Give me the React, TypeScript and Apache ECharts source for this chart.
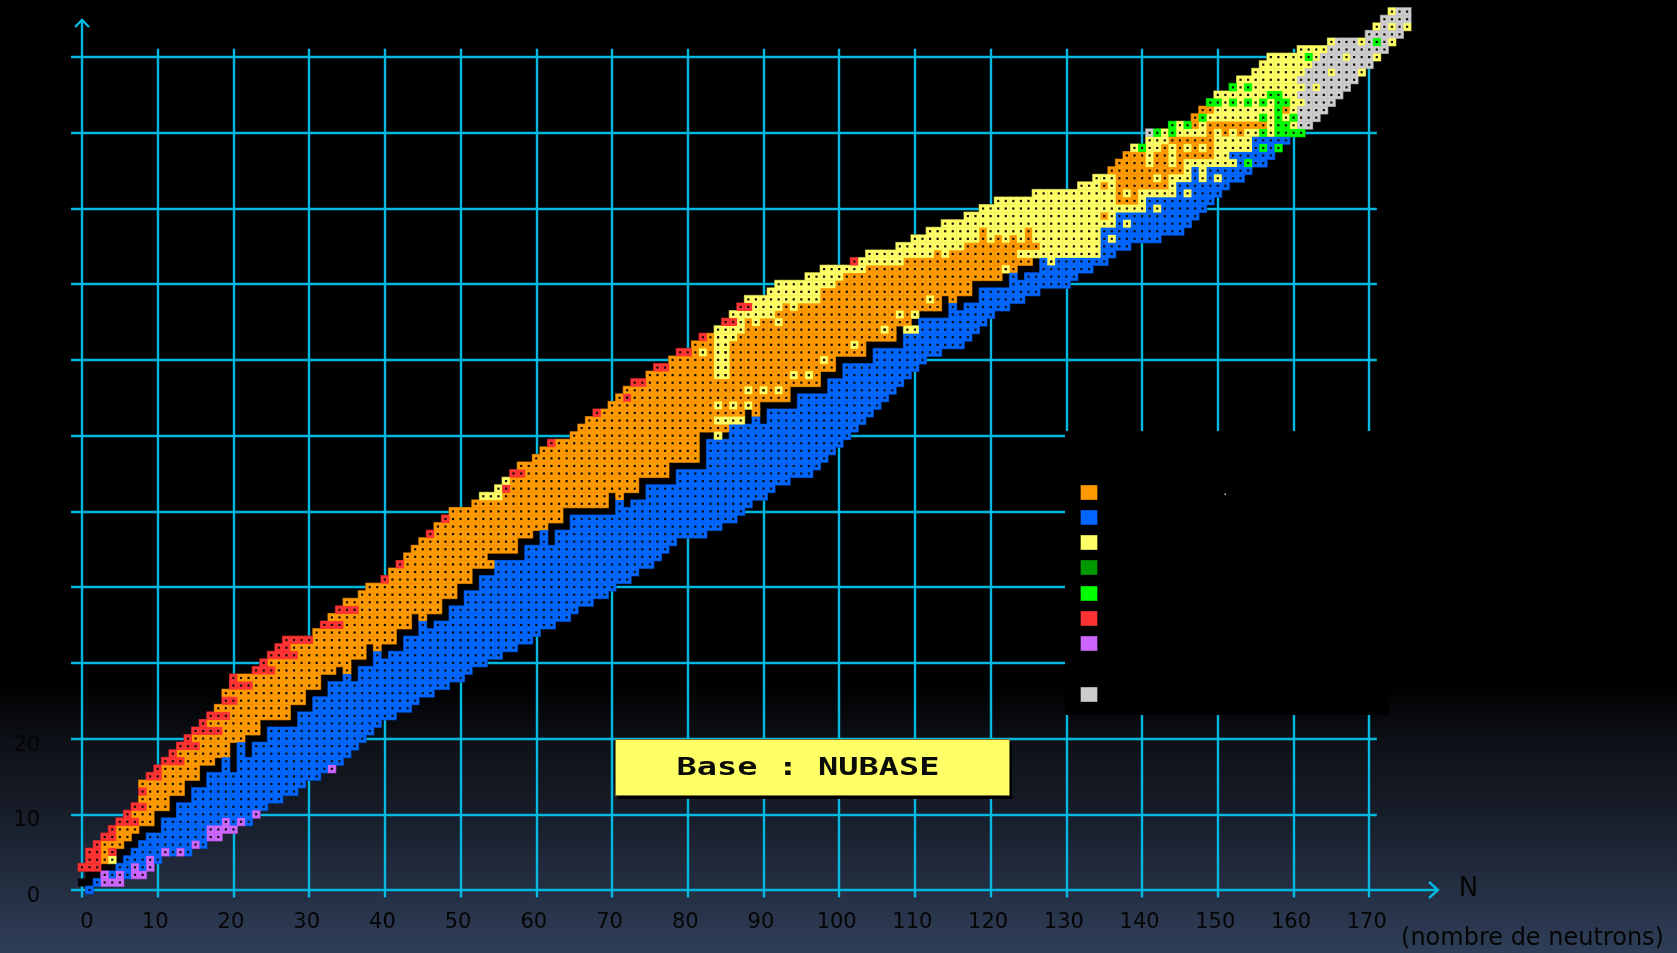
import React, { useEffect, useRef } from "react";
import * as echarts from "echarts";

type Run = [number, number, number]; // [Z, first N, last N]

const xTicks = [0, 10, 20, 30, 40, 50, 60, 70, 80, 90, 100, 110, 120, 130, 140, 150, 160, 170];
const gridZ = [10, 20, 30, 40, 50, 60, 70, 80, 90, 100, 110];
const yTickLabels = [0, 10, 20];
const legendColors = ["#ff9900", "#0066ff", "#ffff66", "#009900", "#00ff00", "#ff3333", "#cc66ff", "#cccccc"];
const noteText = "Base : NUBASE";
const axisLetter = "N";
const axisNote = "(nombre de neutrons)";

const blackRuns: Run[] = [
  [1,0,1],[2,1,2],[3,3,4],[4,5,5],[5,5,6],[6,6,7],[7,7,8],[8,8,10],[9,10,10],[10,10,12],[11,12,12],[12,12,14],[13,14,14],[14,14,16],[15,16,16],
  [16,16,18],[16,20,20],[17,18,18],[17,20,20],[18,20,20],[18,22,22],[19,20,20],[19,22,22],[20,22,24],[21,24,24],[22,24,28],[23,28,28],[24,28,30],[25,30,30],
  [26,30,32],[27,32,32],[28,32,34],[28,36,36],[29,34,34],[29,36,36],[30,36,38],[31,38,38],[31,40,40],[32,38,38],[32,40,42],[33,42,42],[34,42,44],
  [35,44,44],[35,46,46],[36,44,44],[36,46,48],[37,48,48],[38,48,50],[39,50,50],[40,50,52],[41,52,52],[42,52,54],[44,54,58],[45,58,58],[46,58,60],[46,62,62],
  [47,60,60],[47,62,62],[48,62,64],[49,64,64],[50,64,70],[51,70,70],[51,72,72],[52,70,70],[52,72,74],[53,74,74],[54,74,78],[55,78,78],[56,78,82],[57,82,82],
  [58,82,82],[59,82,82],[60,82,83],[60,85,85],[62,88,88],[62,90,90],[63,88,88],[63,90,90],[64,90,94],[65,94,94],[66,94,98],[67,98,98],[68,98,100],[69,100,100],
  [70,100,104],[71,104,104],[72,104,108],[73,108,108],[74,108,108],[75,110,110],[76,111,114],[77,114,114],[77,116,116],[78,114,114],[78,116,118],[79,118,118],
  [80,118,122],[81,122,122],[81,124,124],[82,124,126],[83,126,126],
];

const orangeRuns: Run[] = [
  [4,3,3],[5,3,3],[6,3,5],[7,5,6],[8,5,7],[9,8,9],[10,7,9],[11,9,11],[12,8,11],[13,9,13],[14,8,13],[15,11,15],[16,11,15],[17,14,17],[18,13,19],[19,16,19],
  [20,15,21],[21,19,23],[22,17,23],[23,20,27],[24,18,27],[25,21,29],[26,19,29],[27,23,31],[28,21,31],[29,26,33],[29,35,35],[30,25,35],[31,29,37],[32,28,37],[32,39,39],
  [33,31,41],[34,31,41],[35,35,43],[36,33,43],[36,45,45],[37,37,47],[38,35,47],[39,37,49],[40,38,49],[41,41,51],[42,41,51],[43,43,54],[44,43,53],[45,44,57],[46,45,57],
  [47,47,59],[48,47,61],[49,49,63],[50,49,63],[51,52,69],[52,56,69],[52,71,71],[53,57,73],[54,57,73],[55,59,77],[56,58,77],[57,60,81],[58,61,81],[59,63,81],[60,65,81],
  [61,66,85],[62,67,83],[63,69,87],[63,89,89],[64,70,89],[65,71,93],[66,72,93],[67,75,97],[68,75,97],[69,78,99],[70,78,99],[71,81,103],[72,81,103],[73,83,107],[74,88,107],
  [75,88,109],[76,92,110],[77,93,113],[78,98,113],[78,115,115],[79,98,117],[80,100,117],[81,101,121],[82,104,123],[83,109,125],[84,113,113],[84,115,123],[85,117,126],
  [86,119,119],[86,121,121],[86,123,123],[86,125,125],[87,119,119],[87,125,125],[89,135,135],[91,137,139],[92,137,137],[92,139,139],[93,135,135],[93,137,143],
  [94,137,141],[94,143,143],[95,136,145],[96,137,140],[96,142,143],[96,145,145],[97,138,140],[97,142,143],[97,145,149],[98,143,143],[98,145,145],[98,147,147],[98,149,149],
  [99,144,149],[100,149,149],[100,151,151],[100,153,153],[101,147,147],[101,149,156],[102,147,147],[103,148,149],[103,159,159],
];

const blueRuns: Run[] = [
  [0,1,1],[1,2,2],[2,4,4],[2,6,6],[3,5,6],[3,8,8],[4,6,8],[4,10,10],[5,7,10],[5,12,12],[5,14,14],[6,8,14],[6,16,16],[7,9,16],[8,11,16],[9,11,18],[9,20,20],[9,22,22],
  [10,13,22],[11,13,24],[12,15,26],[13,15,28],[14,17,29],[15,17,31],[16,19,19],[16,21,32],[17,19,19],[17,21,34],[18,21,21],[18,23,35],[19,21,21],[19,23,36],[20,25,37],
  [21,25,38],[22,29,39],[23,29,41],[24,31,43],[25,31,44],[26,33,46],[27,33,48],[28,35,35],[28,37,50],[29,37,51],[30,39,53],[31,39,39],[31,41,55],[32,43,57],[33,43,59],
  [34,45,60],[35,45,45],[35,47,62],[36,49,64],[37,49,65],[38,51,67],[39,51,69],[40,53,70],[41,53,72],[42,55,73],[43,55,75],[44,59,76],[45,59,77],[46,61,61],[46,63,78],
  [47,61,61],[47,63,82],[48,65,84],[49,65,86],[50,71,87],[51,71,71],[51,73,88],[52,75,90],[53,75,91],[54,79,93],[55,79,96],[56,83,97],[57,83,98],[58,83,99],[59,83,100],
  [60,86,101],[61,86,102],[62,89,89],[62,91,103],[63,91,104],[64,95,105],[65,95,106],[66,99,107],[67,99,108],[68,101,109],[69,101,110],[70,105,111],[71,105,113],[72,109,116],
  [73,109,117],[74,111,118],[75,111,119],[76,115,120],[77,115,115],[77,117,122],[78,119,124],[79,119,126],[80,123,130],[81,123,123],[81,125,131],[82,127,133],[83,127,135],
  [84,135,136],[85,135,138],[86,135,135],[86,137,142],[87,135,145],[88,137,137],[88,139,146],[89,137,147],[90,141,141],[90,143,148],[91,141,149],[92,145,145],[92,147,150],
  [93,145,151],[94,147,147],[94,149,149],[94,151,153],[95,147,147],[95,149,154],[96,153,153],[96,155,156],[97,152,157],[98,155,155],[98,157,157],[99,155,159],
];

const yellowRuns: Run[] = [
  [4,4,4],[52,53,55],[53,55,55],[54,56,56],[60,84,84],[62,84,87],[64,84,84],[64,86,86],[64,88,88],[66,88,88],[66,90,90],[66,92,92],[68,84,85],[68,94,94],[68,96,96],[69,84,85],
  [70,84,85],[70,98,98],[71,82,82],[71,84,85],[72,84,85],[72,102,102],[73,84,86],[74,84,87],[74,106,106],[74,109,110],[75,87,87],[75,89,89],[75,92,92],[76,86,91],[76,108,108],
  [76,110,110],[77,89,92],[77,94,94],[78,88,97],[78,112,112],[79,91,97],[80,92,99],[81,96,100],[82,98,103],[82,122,122],[83,103,108],[83,128,128],[84,104,112],[84,114,114],
  [84,124,134],[85,108,116],[85,127,134],[86,110,118],[86,120,120],[86,122,122],[86,124,124],[86,126,134],[86,136,136],[87,112,118],[87,120,124],[87,126,134],[88,114,136],
  [88,138,138],[89,117,134],[89,136,136],[90,119,140],[90,142,142],[91,121,136],[91,140,140],[92,126,136],[92,138,138],[92,140,144],[92,146,146],[93,132,134],[93,136,136],
  [93,144,144],[94,134,136],[94,142,142],[94,144,146],[94,148,148],[94,150,150],[95,146,146],[95,148,148],[96,141,141],[96,144,144],[96,146,152],[97,141,141],[97,144,144],
  [97,150,151],[98,139,139],[98,141,142],[98,144,144],[98,146,146],[98,148,148],[98,150,154],[99,141,143],[99,150,154],[100,143,143],[100,145,148],[100,150,150],[100,152,152],
  [100,154,155],[100,157,157],[101,145,145],[101,148,148],[101,157,157],[101,160,160],[102,149,155],[102,157,157],[102,159,159],[103,150,157],[103,160,160],[104,151,151],
  [104,153,153],[104,155,155],[104,157,157],[104,160,161],[105,150,156],[105,159,160],[106,153,153],[106,155,161],[106,163,163],[107,153,160],[108,155,161],[108,165,165],
  [108,169,169],[109,156,162],[110,157,161],[110,163,163],[110,167,167],[110,171,171],[111,161,164],[112,165,165],[112,169,169],[112,173,173],[114,171,171],[114,173,173],
  [114,175,175],[116,173,173],
];

const grayRuns: Run[] = [
  [100,141,141],[101,161,162],[102,161,163],[103,161,164],[104,162,165],[105,161,166],[106,162,162],[106,164,167],[107,161,168],[108,162,164],[108,166,168],[109,163,170],
  [110,164,166],[110,168,170],[111,165,172],[112,166,168],[112,170,170],[112,172,172],[113,170,174],[114,172,172],[114,174,174],[115,172,175],[116,174,175],
];

const purpleRuns: Run[] = [
  [1,3,5],[2,3,3],[2,5,5],[2,7,8],[3,7,7],[3,9,9],[4,9,9],[5,11,11],[5,13,13],[6,15,15],[7,17,18],[8,17,20],[9,19,19],[9,21,21],[10,23,23],[16,33,33],
];

const redRuns: Run[] = [
  [3,0,2],[4,1,2],[5,1,2],[5,4,4],[6,2,2],[7,3,4],[8,4,4],[9,5,7],[10,6,6],[11,7,8],[13,8,8],[15,9,10],[16,10,10],[17,11,13],[18,12,12],[19,13,15],[20,14,14],[21,15,18],
  [22,16,16],[23,17,19],[25,19,20],[27,20,22],[28,20,20],[29,23,25],[30,24,24],[31,25,28],[32,26,27],[33,27,30],[35,32,34],[37,34,36],[41,40,40],[43,42,42],[47,46,46],
  [49,48,48],[53,56,56],[55,57,58],[59,62,62],[63,68,68],[65,72,72],[67,73,74],[69,76,77],[71,79,80],[73,82,82],[75,85,86],[77,87,88],[83,102,102],
];

const greenRuns: Run[] = [
  [96,154,154],[98,140,140],[98,156,156],[98,158,158],[100,142,142],[100,144,144],[100,156,156],[100,158,161],[101,144,144],[101,146,146],[101,158,159],[102,148,148],
  [102,156,156],[102,158,158],[102,160,160],[103,158,158],[104,149,150],[104,152,152],[104,154,154],[104,156,156],[104,158,159],[105,157,158],[106,152,152],[106,154,154],
  [110,162,162],[112,171,171],
];

const expand = (runs: Run[]) => {
  const out: number[][] = [];
  runs.forEach(([z, a, b]) => {
    for (let n = a; n <= b; n++) out.push([n, z]);
  });
  return out;
};

const UNIT = 7.572;
const X0 = 82;
const Y0 = 890;
const CYAN = "#00b8e0";

export default function App() {
  const ref = useRef<HTMLDivElement>(null);
  useEffect(() => {
    if (!ref.current) return;
    const chart = echarts.init(ref.current, undefined, { renderer: "svg" });

    const colored = [
      { name: "orange", runs: orangeRuns, fill: legendColors[0], edge: "#a86400" },
      { name: "blue", runs: blueRuns, fill: legendColors[1], edge: "#0040a0" },
      { name: "yellow", runs: yellowRuns, fill: legendColors[2], edge: "#9a9a40" },
      { name: "gray", runs: grayRuns, fill: legendColors[7], edge: "#808080" },
      { name: "purple", runs: purpleRuns, fill: legendColors[6], edge: "#8a44ad" },
      { name: "red", runs: redRuns, fill: legendColors[5], edge: "#a82228" },
      { name: "green", runs: greenRuns, fill: legendColors[4], edge: "#00a000" },
    ];

    const base = {
      type: "scatter" as const,
      symbol: "rect",
      silent: true,
      clip: false,
      progressive: 0,
      animation: false,
      emphasis: { disabled: true },
    };

    const hLines = gridZ.map((z) => [{ coord: [-1.45, z] }, { coord: [171, z] }]);
    const vLines = xTicks.slice(1).map((n) => [{ coord: [n, -1] }, { coord: [n, 111.1] }]);
    const axisLines = [
      [{ coord: [-1.45, 0] }, { coord: [179, 0] }],
      [{ coord: [0, -1] }, { coord: [0, 115] }],
    ];

    const series: any[] = [];
    series.push({
      ...base,
      name: "stable",
      z: 3,
      data: expand(blackRuns),
      symbolSize: 8,
      itemStyle: { color: "#000", opacity: 1 },
      markLine: {
        silent: true,
        z: 1,
        symbol: ["none", "none"],
        label: { show: false },
        animation: false,
        lineStyle: { color: CYAN, width: 2.4, type: "solid", opacity: 1 },
        data: [...hLines, ...vLines, ...axisLines],
      },
    });
    colored.forEach((c, i) => {
      series.push({
        ...base,
        name: c.name + " edge",
        z: 4,
        data: expand(c.runs),
        symbolSize: 9,
        itemStyle: { color: c.edge, opacity: 1 },
      });
      series.push({
        ...base,
        name: c.name,
        z: 5 + i,
        data: expand(c.runs),
        symbolSize: 7.8,
        itemStyle: { color: c.fill, opacity: 1 },
      });
    });
    series.push({
      ...base,
      name: "dots",
      z: 20,
      data: colored.flatMap((c) => expand(c.runs)),
      symbolSize: 2.2,
      itemStyle: { color: "#100c06", opacity: 1 },
    });

    const labelFont = { fontFamily: "DejaVu Sans", fontSize: 21, color: "#050506" };

    const legendYs = [485, 510, 535, 560, 586, 611, 636, 687];

    chart.setOption({
      animation: false,
      backgroundColor: new echarts.graphic.LinearGradient(0, 0, 0, 1, [
        { offset: 0, color: "#000000" },
        { offset: 0.72, color: "#000000" },
        { offset: 0.78, color: "#0e1118" },
        { offset: 0.84, color: "#151a25" },
        { offset: 1, color: "#2f3e58" },
      ]),
      tooltip: { show: false },
      grid: {
        left: X0 - 5 * UNIT,
        top: Y0 - 116 * UNIT,
        width: 195 * UNIT,
        height: 118 * UNIT,
        containLabel: false,
      },
      xAxis: {
        type: "value",
        min: -5,
        max: 190,
        interval: 5,
        axisLine: { show: false },
        axisTick: { show: false },
        splitLine: { show: false },
        axisLabel: {
          ...labelFont,
          margin: 5,
          padding: [0, 5, 0, 0],
          showMinLabel: false,
          showMaxLabel: false,
          formatter: (v: number) => (xTicks.includes(v) ? (v === 0 ? "{zero|0}" : String(v)) : ""),
          rich: { zero: { ...labelFont, padding: [0, 0, 0, 15] } },
        },
      },
      yAxis: {
        type: "value",
        min: -2,
        max: 116,
        interval: 2,
        axisLine: { show: false },
        axisTick: { show: false },
        splitLine: { show: false },
        axisLabel: {
          ...labelFont,
          margin: 4,
          formatter: (v: number) => (yTickLabels.includes(v) ? "{lowered|" + v + "}" : ""),
          rich: { lowered: { ...labelFont, padding: [10, 0, 0, 0] } },
        },
      },
      series,
      graphic: {
        z: 30,
        elements: [
          { type: "rect", z: 30, shape: { x: 1065, y: 431, width: 324, height: 284 }, style: { fill: "#000" } },
          ...legendYs.map((y, i) => ({
            type: "rect",
            z: 31,
            shape: { x: 1080.5, y, width: 17, height: 15 },
            style: { fill: legendColors[i], stroke: "rgba(0,0,0,0.35)", lineWidth: 1 },
          })),
          { type: "rect", z: 31, shape: { x: 1224.5, y: 493.5, width: 1.5, height: 1.5 }, style: { fill: "#cfc8b8" } },
          { type: "polyline", z: 31, shape: { points: [[1429, 882], [1438, 890], [1429, 898]] }, style: { stroke: CYAN, lineWidth: 2.4, fill: "none" } },
          { type: "polyline", z: 31, shape: { points: [[75, 27], [82, 20], [89, 27]] }, style: { stroke: CYAN, lineWidth: 2.4, fill: "none" } },
          { type: "rect", z: 31, shape: { x: 618, y: 742, width: 394, height: 57 }, style: { fill: "#000" } },
          { type: "rect", z: 32, shape: { x: 615.5, y: 739.5, width: 394, height: 56 }, style: { fill: legendColors[2], stroke: "#77772e", lineWidth: 1 } },
          {
            type: "text",
            z: 33,
            x: 808,
            y: 767,
            scaleX: 1.4,
            style: {
              text: noteText,
              x: 0,
              y: 0,
              align: "center",
              verticalAlign: "middle",
              fontFamily: "DejaVu Sans Mono",
              fontWeight: "bold",
              fontSize: 24,
              fill: "#0c0c06",
            },
          },
          {
            type: "text",
            z: 33,
            x: 1468.5,
            y: 887,
            style: { text: axisLetter, x: 0, y: 0, align: "center", verticalAlign: "middle", fontFamily: "DejaVu Sans", fontSize: 26, fill: "#050506" },
          },
          {
            type: "text",
            z: 33,
            x: 1532.5,
            y: 937,
            style: { text: axisNote, x: 0, y: 0, align: "center", verticalAlign: "middle", fontFamily: "DejaVu Sans", fontSize: 24, fill: "#050506" },
          },
        ],
      },
    });
    return () => chart.dispose();
  }, []);
  return (
    <div
      ref={ref}
      style={{ position: "absolute", left: 0, top: 0, width: 1677, height: 953, filter: "blur(0.3px)" }}
    />
  );
}
